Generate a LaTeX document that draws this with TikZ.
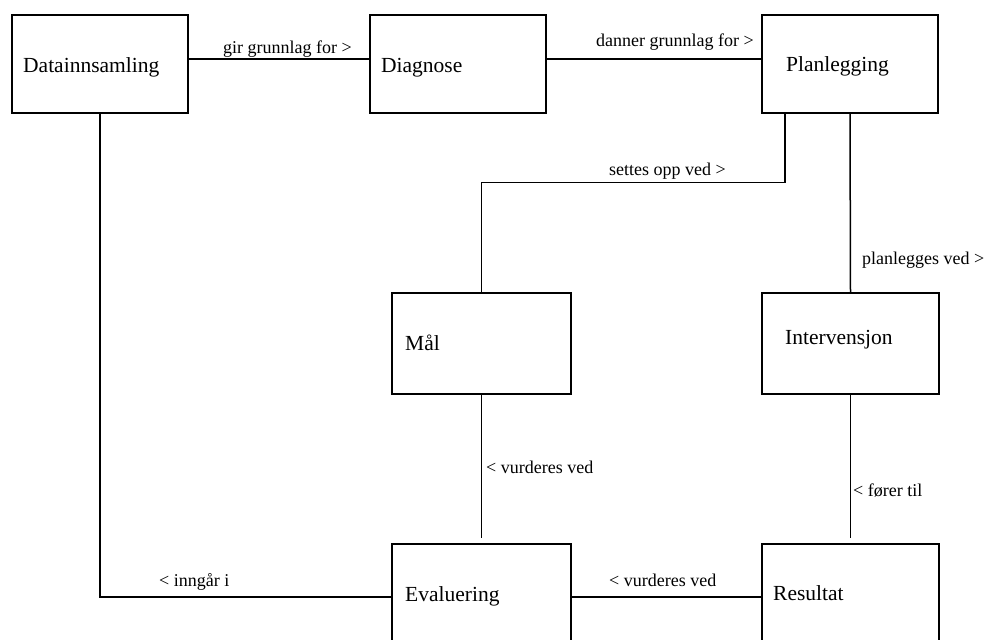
\documentclass[tikz,border=0pt]{standalone}
\usepackage{fontspec}
\setmainfont{Liberation Serif}
\begin{document}
\begin{tikzpicture}[x=1pt,y=1pt,
  entity/.style={draw=black, line width=1.5pt, rectangle, inner sep=0pt},
  ename/.style={anchor=base west, inner sep=0pt, font=\fontsize{21.5}{25}\selectfont},
  rel/.style={anchor=base west, inner sep=0pt, font=\fontsize{18}{21}\selectfont},
  link/.style={draw=black, line width=1.5pt}]
\useasboundingbox (0,0) rectangle (994,640);

% entity boxes
\node[entity, minimum width=176pt, minimum height=98pt] (dat) at (100,576) {};
\node[entity, minimum width=176pt, minimum height=98pt] (dia) at (458,576) {};
\node[entity, minimum width=176pt, minimum height=98pt] (pla) at (850,576) {};
\node[entity, minimum width=179pt, minimum height=101pt] (mal) at (481.5,296.5) {};
\node[entity, minimum width=177pt, minimum height=101pt] (int) at (850.5,296.5) {};
\node[entity, minimum width=179pt, minimum height=100pt] (eva) at (481.5,46) {};
\node[entity, minimum width=177pt, minimum height=100pt] (res) at (850.5,46) {};

% entity names
\node[ename] (datT) at (23,567) {Datainnsamling};
\node[ename] (diaT) at (381,567) {Diagnose};
\node[ename] (plaT) at (786,568) {Planlegging};
\node[ename] (malT) at (405,289) {Mål};
\node[ename] (intT) at (785,295) {Intervensjon};
\node[ename] (evaT) at (405,38) {Evaluering};
\node[ename] (resT) at (773,39) {Resultat};

% relations
\draw[link] ([yshift=5pt]dat.east) -- ([yshift=5pt]dia.west);
\draw[link] ([yshift=5pt]dia.east) -- ([yshift=5pt]pla.west);
\draw[link] ([xshift=-65pt]pla.south) -- ++(0,-69) -| (mal.north);
\draw[link] (pla.south) -- (int.north);
\draw[link, shorten >=5pt] (mal.south) -- (eva.north);
\draw[link, shorten >=5pt] (int.south) -- (res.north);
\draw[link] (dat.south) |- ([yshift=-3pt]eva.west);
\draw[link] ([yshift=-3pt]eva.east) -- ([yshift=-3pt]res.west);

% relation labels
\node[rel] (l1) at (223,586) {gir grunnlag for >};
\node[rel] (l2) at (596,593) {danner grunnlag for >};
\node[rel] (l3) at (609,464) {settes opp ved >};
\node[rel] (l4) at (862,375) {planlegges ved >};
\node[rel] (l5) at (486,166) {< vurderes ved};
\node[rel] (l6) at (853,143) {< fører til};
\node[rel] (l7) at (159,53) {< inngår i};
\node[rel] (l8) at (609,53) {< vurderes ved};
\end{tikzpicture}
\end{document}
